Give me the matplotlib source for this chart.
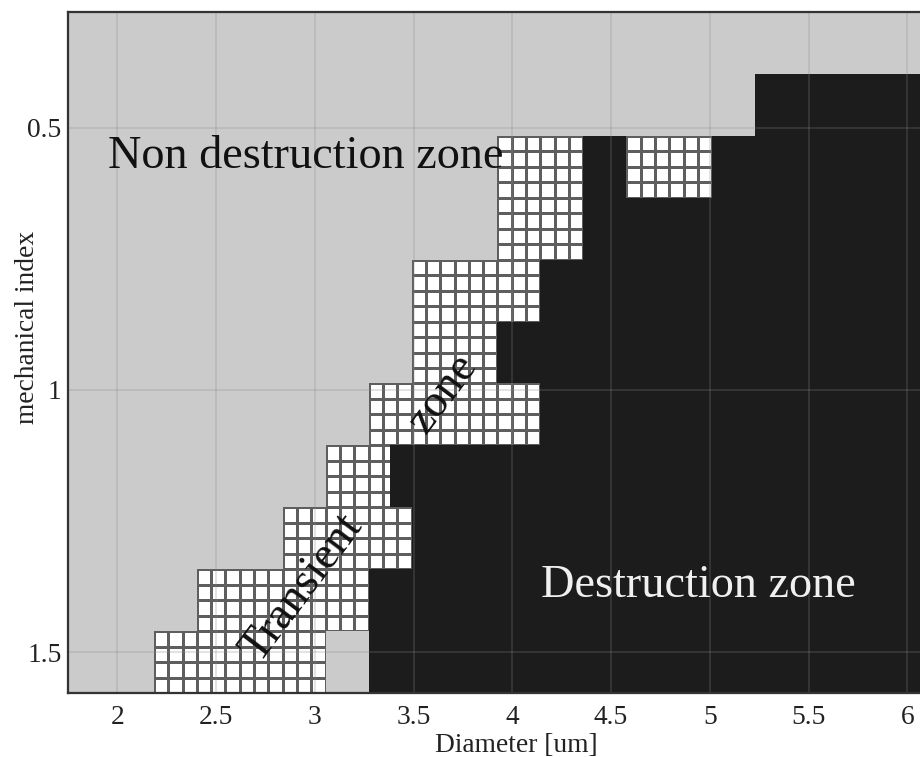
import numpy as np
import matplotlib.pyplot as plt
from matplotlib.colors import ListedColormap

plt.rcParams['font.family'] = ['Liberation Serif', 'DejaVu Serif']

# cell edges of the diameter / mechanical index grid
diam_edges = np.linspace(1.75, 6.10, 41)
mi_edges = np.linspace(0.279, 1.578, 12)

# zone map, top row first: '.' non destruction, 'T' transient, '#' destruction
zone_rows = [
    "..........|..........|..........|..........",
    "..........|..........|..........|..########",
    "..........|..........|TTTT##TTTT|##########",
    "..........|..........|TTTT######|##########",
    "..........|......TTTT|TT########|##########",
    "..........|......TTTT|##########|##########",
    "..........|....TTTTTT|TT########|##########",
    "..........|..TTT#####|##########|##########",
    "..........|TTTTTT####|##########|##########",
    "......TTTT|TTTT######|##########|##########",
    "....TTTTTT|TT..######|##########|##########",
]
codes = {'.': 0, 'T': 1, '#': 2}
zone = np.array([[codes[ch] for ch in row.replace('|', '')] for row in zone_rows])

x_ticks = [2, 2.5, 3, 3.5, 4, 4.5, 5, 5.5, 6]
x_labels = ['2', '2.5', '3', '3.5', '4', '4.5', '5', '5.5', '6']
y_ticks = [0.5, 1, 1.5]
y_labels = ['0.5', '1', '1.5']

fig = plt.figure(figsize=(921 / 90, 757 / 90), dpi=90)
ax = fig.add_axes([68 / 921, 64 / 757, 859 / 921, 681 / 757])

# fine mesh underneath, it only shows through the transient cells
fine_x = np.linspace(diam_edges[0], diam_edges[-1], 61)
fine_y = np.linspace(mi_edges[0], mi_edges[-1], 45)
ax.pcolormesh(fine_x, fine_y, np.zeros((44, 60)), cmap=ListedColormap(['#ffffff']),
              edgecolors='#5e5e5e', linewidth=2.2)

# zones on top, transient cells left transparent
cmap = ListedColormap(['#cbcbcb', '#ffffff', '#1c1c1c'])
ax.pcolormesh(diam_edges, mi_edges, np.ma.masked_equal(zone, 1), cmap=cmap,
              vmin=-0.5, vmax=2.5)

ax.set_xlim(diam_edges[0], diam_edges[-1])
ax.set_ylim(mi_edges[-1], mi_edges[0])
ax.set_xticks(x_ticks)
ax.set_xticklabels(x_labels)
ax.set_yticks(y_ticks)
ax.set_yticklabels(y_labels)
ax.tick_params(length=0, labelsize=22, colors='#222222')
ax.tick_params(axis='x', pad=10)
ax.tick_params(axis='y', pad=5)
ax.grid(True, color='#888888', alpha=0.3, linewidth=1.2)
for s in ax.spines.values():
    s.set_color('#333333')
    s.set_linewidth(1.8)

ax.text(1.953, 0.577, 'Non destruction zone', fontsize=37, ha='left', va='baseline', color='#111111')
ax.text(4.146, 1.395, 'Destruction zone', fontsize=37, ha='left', va='baseline', color='#f0f0f0')
ax.text(2.935, 1.378, 'Transient', fontsize=37, rotation=53, ha='center', va='center',
        rotation_mode='anchor', color='#111111')
ax.text(3.65, 1.006, 'zone', fontsize=37, rotation=53, ha='center', va='center',
        rotation_mode='anchor', color='#111111')

fig.text(28 / 921, 1 - 327 / 757, 'mechanical index', rotation=90, fontsize=22,
         ha='center', va='center', color='#222222')
fig.text(516 / 921, 1 - 745 / 757, 'Diameter [um]', fontsize=22,
         ha='center', va='center', color='#222222')

fig.savefig('out.png', dpi=90)
